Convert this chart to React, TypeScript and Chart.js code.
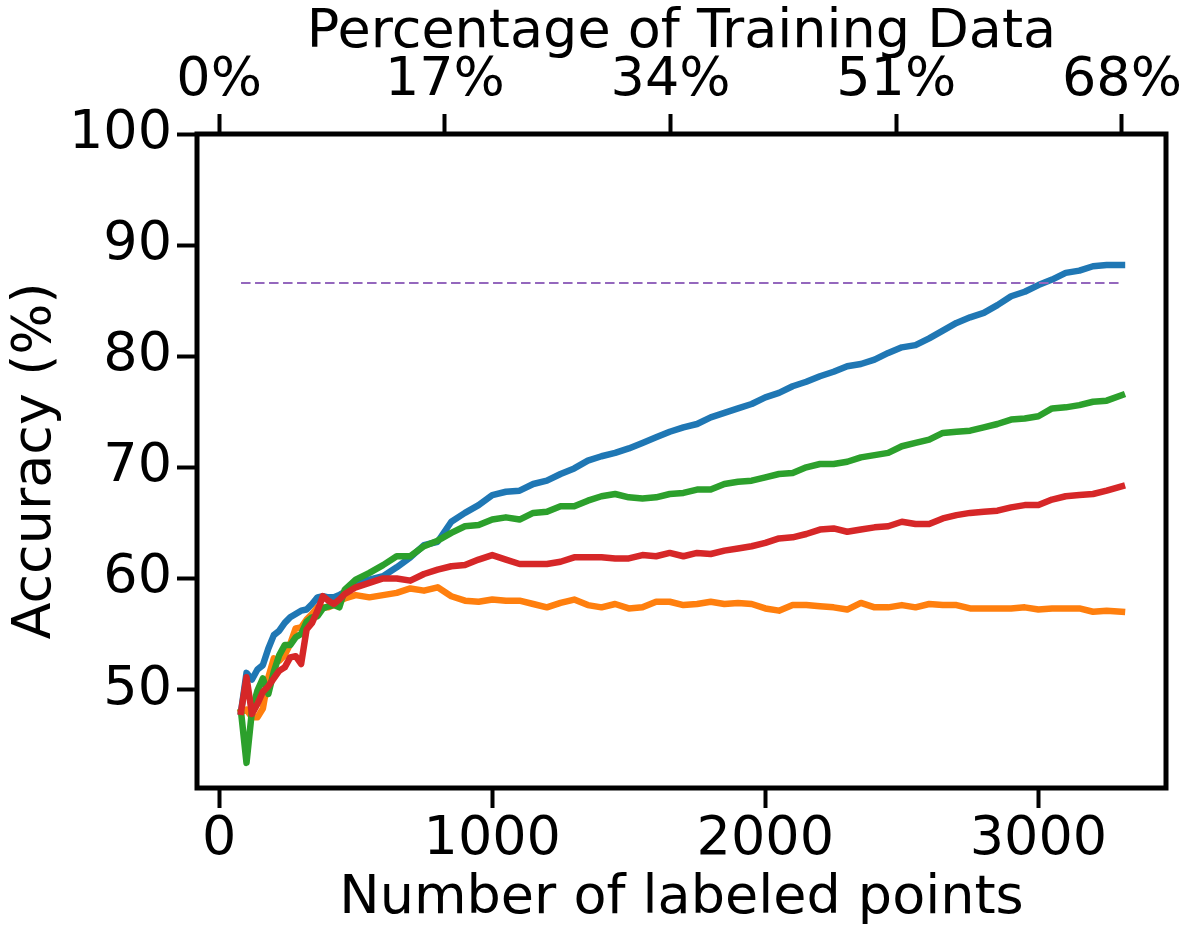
import React, { useEffect, useRef } from "react";
import { Chart, registerables } from "chart.js";

Chart.register(...registerables);

// Number of labeled points (x positions of the samples)
const X_POINTS = [
  80, 100, 120, 140, 160, 180, 200, 220, 240, 260, 280, 300, 320, 340, 360, 380, 400, 420, 440, 460,
  500, 550, 600, 650, 700, 750, 800, 850, 900, 950,
  1000, 1050, 1100, 1150, 1200, 1250, 1300, 1350, 1400, 1450,
  1500, 1550, 1600, 1650, 1700, 1750, 1800, 1850, 1900, 1950,
  2000, 2050, 2100, 2150, 2200, 2250, 2300, 2350, 2400, 2450,
  2500, 2550, 2600, 2650, 2700, 2750, 2800, 2850, 2900, 2950,
  3000, 3050, 3100, 3150, 3200, 3250, 3306,
];

const BLUE_ACC = [
  48.0, 51.5, 50.9, 51.8, 52.2, 53.7, 54.9, 55.3, 56.0, 56.5, 56.8, 57.1, 57.2, 57.7, 58.3, 58.4, 58.3, 58.3, 58.5, 58.8,
  59.4, 59.9, 60.2, 61.0, 61.9, 63.0, 63.3, 65.1, 65.9, 66.6,
  67.5, 67.8, 67.9, 68.5, 68.8, 69.4, 69.9, 70.6, 71.0, 71.3,
  71.7, 72.2, 72.7, 73.2, 73.6, 73.9, 74.5, 74.9, 75.3, 75.7,
  76.3, 76.7, 77.3, 77.7, 78.2, 78.6, 79.1, 79.3, 79.7, 80.3,
  80.8, 81.0, 81.6, 82.3, 83.0, 83.5, 83.9, 84.6, 85.4, 85.8,
  86.4, 86.9, 87.5, 87.7, 88.1, 88.2, 88.2,
];

const ORANGE_ACC = [
  48.0, 48.2, 47.5, 47.5, 48.3, 51.1, 52.8, 52.6, 53.1, 54.1, 55.5, 55.6, 56.3, 56.8, 57.4, 57.4, 57.4, 57.6, 58.0, 58.2,
  58.5, 58.3, 58.5, 58.7, 59.1, 58.9, 59.2, 58.4, 58.0, 57.9,
  58.1, 58.0, 58.0, 57.7, 57.4, 57.8, 58.1, 57.6, 57.4, 57.7,
  57.3, 57.4, 57.9, 57.9, 57.6, 57.7, 57.9, 57.7, 57.8, 57.7,
  57.3, 57.1, 57.6, 57.6, 57.5, 57.4, 57.2, 57.8, 57.4, 57.4,
  57.6, 57.4, 57.7, 57.6, 57.6, 57.3, 57.3, 57.3, 57.3, 57.4,
  57.2, 57.3, 57.3, 57.3, 57.0, 57.1, 57.0,
];

const GREEN_ACC = [
  48.0, 43.4, 48.1, 49.9, 51.0, 49.6, 51.6, 53.1, 54.0, 54.0, 54.7, 55.0, 56.1, 56.5, 56.6, 57.3, 57.5, 57.6, 57.4, 59.0,
  59.9, 60.5, 61.2, 62.0, 62.0, 62.9, 63.4, 64.1, 64.7, 64.8,
  65.3, 65.5, 65.3, 65.9, 66.0, 66.5, 66.5, 67.0, 67.4, 67.6,
  67.3, 67.2, 67.3, 67.6, 67.7, 68.0, 68.0, 68.5, 68.7, 68.8,
  69.1, 69.4, 69.5, 70.0, 70.3, 70.3, 70.5, 70.9, 71.1, 71.3,
  71.9, 72.2, 72.5, 73.1, 73.2, 73.3, 73.6, 73.9, 74.3, 74.4,
  74.6, 75.3, 75.4, 75.6, 75.9, 76.0, 76.5,
];

const RED_ACC = [
  48.0, 51.1, 47.8, 48.7, 49.8, 50.3, 51.0, 51.7, 52.0, 52.9, 53.0, 52.3, 55.4, 56.0, 57.1, 58.4, 58.0, 57.7, 58.1, 58.6,
  59.2, 59.6, 60.0, 60.0, 59.8, 60.4, 60.8, 61.1, 61.2, 61.7,
  62.1, 61.7, 61.3, 61.3, 61.3, 61.5, 61.9, 61.9, 61.9, 61.8,
  61.8, 62.1, 62.0, 62.3, 62.0, 62.3, 62.2, 62.5, 62.7, 62.9,
  63.2, 63.6, 63.7, 64.0, 64.4, 64.5, 64.2, 64.4, 64.6, 64.7,
  65.1, 64.9, 64.9, 65.4, 65.7, 65.9, 66.0, 66.1, 66.4, 66.6,
  66.6, 67.1, 67.4, 67.5, 67.6, 67.9, 68.3,
];

// Horizontal reference (dashed purple)
const REFERENCE_ACC = 86.6;
const REFERENCE_X = [80, 3306];

const BOTTOM_TICKS = [0, 1000, 2000, 3000];
const TOP_TICK_VALUES = [0, 826.5, 1653, 2479.5, 3306];
const TOP_TICK_LABELS = ["0%", "17%", "34%", "51%", "68%"];
const Y_TICKS = [50, 60, 70, 80, 90, 100];

const FONT = { family: "'DejaVu Sans', sans-serif", size: 54, lineHeight: 1 };

const W = 1191;
const H = 934;

const series = (ys: number[]) => X_POINTS.map((x, i) => ({ x, y: ys[i] }));

const framePlugin = {
  id: "frame",
  afterDatasetsDraw(chart: any) {
    const { ctx, chartArea } = chart;
    ctx.save();
    ctx.strokeStyle = "#000";
    ctx.lineWidth = 5;
    ctx.lineJoin = "miter";
    ctx.strokeRect(chartArea.left, chartArea.top, chartArea.right - chartArea.left, chartArea.bottom - chartArea.top);
    ctx.restore();
  },
};

const tickGrid = {
  display: true,
  drawOnChartArea: false,
  drawTicks: true,
  tickLength: 20,
  tickWidth: 4,
  tickColor: "#000",
};

export default function App() {
  const ref = useRef<HTMLCanvasElement | null>(null);

  useEffect(() => {
    if (!ref.current) return;
    const lineStyle = {
      borderWidth: 6.5,
      pointRadius: 0,
      fill: false,
      tension: 0,
      borderJoinStyle: "round" as const,
      borderCapStyle: "square" as const,
    };
    const chart = new Chart(ref.current, {
      type: "line",
      data: {
        datasets: [
          {
            label: "reference",
            data: REFERENCE_X.map((x) => ({ x, y: REFERENCE_ACC })),
            borderColor: "#9467bd",
            borderWidth: 2,
            borderDash: [9.5, 4.5],
            pointRadius: 0,
            fill: false,
          },
          { label: "red", data: series(RED_ACC), borderColor: "#d62728", ...lineStyle },
          { label: "green", data: series(GREEN_ACC), borderColor: "#2ca02c", ...lineStyle },
          { label: "orange", data: series(ORANGE_ACC), borderColor: "#ff7f0e", ...lineStyle },
          { label: "blue", data: series(BLUE_ACC), borderColor: "#1f77b4", ...lineStyle },
        ],
      },
      options: {
        responsive: false,
        animation: false,
        devicePixelRatio: 1,
        layout: { padding: { left: 0, right: 25, top: 0, bottom: 0 }, autoPadding: false },
        plugins: { legend: { display: false }, tooltip: { enabled: false } },
        scales: {
          x: {
            type: "linear",
            position: "bottom",
            min: -81.3,
            max: 3467.3,
            afterBuildTicks: (axis: any) => {
              axis.ticks = BOTTOM_TICKS.map((v) => ({ value: v }));
            },
            afterFit: (s: any) => {
              s.height = H - 788;
            },
            ticks: {
              autoSkip: false,
              maxRotation: 0,
              minRotation: 0,
              padding: 5,
              color: "#000",
              font: FONT,
              callback: (v: any) => String(v),
            },
            grid: tickGrid,
            border: { display: false },
            title: {
              display: true,
              text: "Number of labeled points",
              color: "#000",
              font: FONT,
              padding: { top: 0, bottom: 8 },
            },
          },
          xTop: {
            type: "linear",
            position: "top",
            min: -81.3,
            max: 3467.3,
            afterBuildTicks: (axis: any) => {
              axis.ticks = TOP_TICK_VALUES.map((v) => ({ value: v }));
            },
            afterFit: (s: any) => {
              s.height = 134;
            },
            ticks: {
              autoSkip: false,
              maxRotation: 0,
              minRotation: 0,
              padding: 6,
              color: "#000",
              font: FONT,
              callback: (_v: any, i: number) => TOP_TICK_LABELS[i],
            },
            grid: tickGrid,
            border: { display: false },
            title: {
              display: true,
              text: "Percentage of Training Data",
              color: "#000",
              font: FONT,
              padding: { top: 6, bottom: 0 },
            },
          },
          y: {
            type: "linear",
            position: "left",
            min: 41.14,
            max: 100,
            afterBuildTicks: (axis: any) => {
              axis.ticks = Y_TICKS.map((v) => ({ value: v }));
            },
            afterFit: (s: any) => {
              s.width = 197;
            },
            ticks: {
              autoSkip: false,
              padding: 5,
              color: "#000",
              font: FONT,
              callback: (v: any) => String(v),
            },
            grid: tickGrid,
            border: { display: false },
            title: {
              display: true,
              text: "Accuracy (%)",
              color: "#000",
              font: FONT,
              padding: { top: 9, bottom: 0 },
            },
          },
        },
      },
      plugins: [framePlugin],
    } as any);
    return () => chart.destroy();
  }, []);

  return (
    <div style={{ position: "absolute", left: 0, top: 0, width: W, height: H, background: "#fff" }}>
      <canvas ref={ref} width={W} height={H} style={{ width: W, height: H, display: "block" }} />
    </div>
  );
}
